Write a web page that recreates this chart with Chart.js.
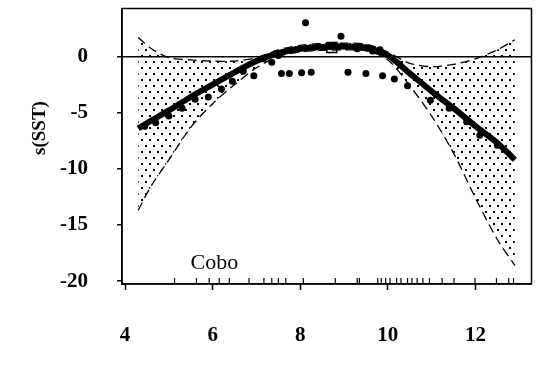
<!DOCTYPE html>
<html>
<head>
<meta charset="utf-8">
<script src="https://cdn.jsdelivr.net/npm/chart.js@4.4.1/dist/chart.umd.min.js"></script>
<style>
    html, body { margin: 0; padding: 0; background: #fff; }
</style>
</head>
<body>
<canvas id="sst-chart" width="540" height="370"></canvas>
<script>
// smooth term for SST with +/- 2 se bands
const sstGrid   = [4.3, 4.6, 5.0, 5.5, 6.0, 6.5, 7.0, 7.5, 8.0, 8.5, 9.0, 9.5, 10.0, 10.5, 11.0, 11.5, 12.0, 12.5, 12.9];
const smoothFit = [-6.4, -5.7, -4.8, -3.6, -2.5, -1.4, -0.4, 0.3, 0.7, 0.85, 0.9, 0.8, 0.1, -1.5, -3.1, -4.6, -6.2, -7.7, -9.2];
const upperBand = [1.7, 0.7, -0.1, -0.3, -0.4, -0.4, -0.1, 0.6, 1.0, 1.15, 1.2, 1.1, 0.4, -0.6, -0.9, -0.7, -0.2, 0.6, 1.5];
const lowerBand = [-13.7, -11.5, -9.2, -6.3, -4.2, -2.5, -1.0, 0.0, 0.4, 0.55, 0.6, 0.5, -0.3, -2.6, -5.3, -8.6, -12.6, -16.3, -18.6];

// partial residuals
const residualX = [8.12, 8.93, 7.57, 7.75, 8.03, 8.25, 9.09, 9.5, 9.88, 7.35, 6.94, 6.7, 6.45, 6.2, 5.9, 5.6, 5.3, 5.0, 4.7, 4.45,
                   7.15, 7.5, 7.9, 8.4, 8.8, 9.3, 9.65, 9.82, 10.15, 10.45, 10.97, 11.4, 11.8, 12.1, 12.5];
const residualY = [3.0, 1.8, -1.5, -1.5, -1.45, -1.4, -1.4, -1.5, -1.7, -0.5, -1.7, -1.3, -2.2, -2.9, -3.6, -3.8, -4.6, -5.3, -5.9, -6.2,
                   -0.2, 0.1, 0.6, 0.9, 1.0, 0.7, 0.5, 0.6, -2.0, -2.6, -3.9, -4.6, -5.8, -7.0, -7.9];

// observed SST values along the bottom axis
const rugX = [5.13, 5.63, 5.92, 6.15, 6.38, 6.83, 7.17, 7.35, 7.5, 7.67, 8.07, 8.8, 9.3, 9.35, 9.77, 9.85, 9.95, 10.05,
              10.2, 10.3, 10.45, 10.55, 10.67, 10.8, 10.95, 11.24, 11.51, 11.99, 12.48, 12.76, 12.87];

const markerX = [8.72];
const markerY = [0.8];

const xTicks = [4, 6, 8, 10, 12];
const yTicks = [-20, -15, -10, -5, 0];

const xRange = [3.93, 13.28];
const yRange = [-20.26, 4.28];
const rugLevel = -20.0;

function pairs(xs, ys) {
    return xs.map((x, i) => ({ x: x, y: ys[i] }));
}

function stipple() {
    const tile = document.createElement('canvas');
    tile.width = 8;
    tile.height = 12;
    const g = tile.getContext('2d');
    g.fillStyle = '#000';
    g.fillRect(1, 1, 2, 2);
    g.fillRect(5, 7, 2, 2);
    return g.createPattern(tile, 'repeat');
}

const tickFont = { family: '"Liberation Serif", "Times New Roman", serif', size: 21, weight: 'bold' };

// box round the plot plus the free text labels
const framePlugin = {
    id: 'frame',
    afterDatasetsDraw(chart) {
        const { ctx, chartArea: a, scales } = chart;
        ctx.save();
        ctx.strokeStyle = '#000';
        ctx.lineWidth = 1.5;
        ctx.strokeRect(a.left, a.top, a.right - a.left, a.bottom - a.top);

        ctx.fillStyle = '#000';
        ctx.textAlign = 'center';
        ctx.textBaseline = 'middle';
        ctx.font = '22px "Liberation Serif", serif';
        ctx.fillText('Cobo', scales.x.getPixelForValue(6.04), scales.y.getPixelForValue(-18.4));

        ctx.translate(40, 128);
        ctx.rotate(-Math.PI / 2);
        ctx.font = 'bold 19px "Liberation Serif", serif';
        ctx.fillText('s(SST)', 0, 0);
        ctx.restore();
    }
};

new Chart(document.getElementById('sst-chart'), {
    type: 'line',
    data: {
        datasets: [
            {
                data: pairs(sstGrid, upperBand),
                borderColor: '#000',
                borderWidth: 1.3,
                borderDash: [9, 5],
                pointRadius: 0,
                tension: 0.3,
                fill: false,
                order: 3
            },
            {
                data: pairs(sstGrid, lowerBand),
                borderColor: '#000',
                borderWidth: 1.3,
                borderDash: [9, 5],
                backgroundColor: stipple(),
                pointRadius: 0,
                tension: 0.3,
                fill: '-1',
                order: 2
            },
            {
                data: pairs(sstGrid, smoothFit),
                borderColor: '#000',
                borderWidth: 6,
                pointRadius: 0,
                tension: 0.3,
                fill: false,
                order: 1
            },
            {
                data: pairs(residualX, residualY),
                showLine: false,
                pointRadius: 3.5,
                pointBackgroundColor: '#000',
                pointBorderWidth: 0,
                order: 0
            },
            {
                data: rugX.map(x => ({ x: x, y: rugLevel })),
                showLine: false,
                pointStyle: 'line',
                rotation: 90,
                pointRadius: 3,
                pointBorderColor: '#000',
                pointBorderWidth: 1.2,
                clip: false,
                order: 0
            },
            {
                data: pairs(markerX, markerY),
                showLine: false,
                pointStyle: 'rect',
                pointRadius: 7,
                pointBackgroundColor: 'rgba(0,0,0,0)',
                pointBorderColor: '#000',
                pointBorderWidth: 1.5,
                order: 0
            }
        ]
    },
    options: {
        responsive: false,
        animation: false,
        layout: { padding: { top: 3, right: 5, left: 0, bottom: 0 } },
        plugins: {
            legend: { display: false },
            tooltip: { enabled: false }
        },
        scales: {
            x: {
                type: 'linear',
                min: xRange[0],
                max: xRange[1],
                afterBuildTicks: scale => { scale.ticks = xTicks.map(v => ({ value: v })); },
                afterFit: scale => {
                    scale.height = 86;
                    scale.paddingLeft = 0;
                    scale.paddingRight = 0;
                },
                border: { display: true, color: '#000', width: 1.5 },
                grid: { drawOnChartArea: false, tickLength: 6, tickColor: '#000', tickWidth: 1.5 },
                ticks: { color: '#000', font: tickFont, padding: 33, maxRotation: 0 }
            },
            y: {
                type: 'linear',
                min: yRange[0],
                max: yRange[1],
                afterBuildTicks: scale => { scale.ticks = yTicks.map(v => ({ value: v })); },
                afterFit: scale => {
                    scale.width = 122;
                    scale.paddingTop = 0;
                    scale.paddingBottom = 0;
                },
                border: { display: true, color: '#000', width: 1.5 },
                grid: {
                    color: c => (c.tick && c.tick.value === 0 ? '#000' : 'rgba(0,0,0,0)'),
                    lineWidth: 1.5,
                    tickLength: 5,
                    tickColor: '#000',
                    tickWidth: 1.5
                },
                ticks: { color: '#000', font: tickFont, padding: 29 }
            }
        }
    },
    plugins: [framePlugin]
});
</script>
</body>
</html>
